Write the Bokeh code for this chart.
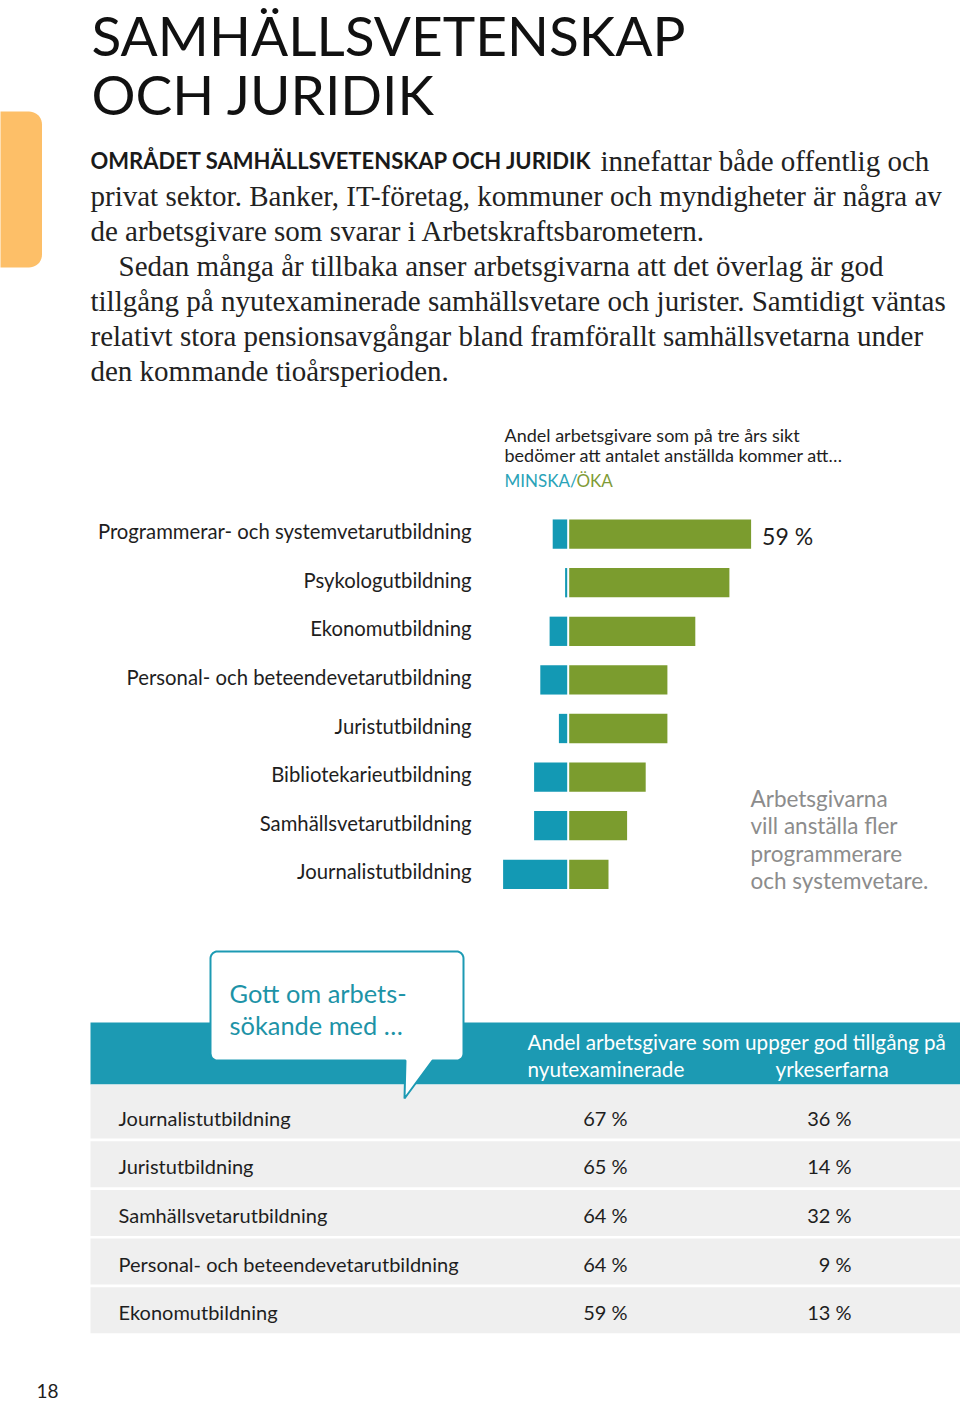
import math
from bokeh.plotting import figure
from bokeh.models import Range1d, Label, ColumnDataSource
from bokeh.embed import file_html
from bokeh.resources import INLINE
from bokeh.core.properties import value

# ---------------- data ----------------
categories = [
    "Programmerar- och systemvetarutbildning",
    "Psykologutbildning",
    "Ekonomutbildning",
    "Personal- och beteendevetarutbildning",
    "Juristutbildning",
    "Bibliotekarieutbildning",
    "Samhällsvetarutbildning",
    "Journalistutbildning",
]
minska = [5, 1, 6, 9, 3, 11, 11, 21]
oka = [59, 52, 41, 32, 32, 25, 19, 13]

table_labels = [
    "Journalistutbildning",
    "Juristutbildning",
    "Samhällsvetarutbildning",
    "Personal- och beteendevetarutbildning",
    "Ekonomutbildning",
]
nyutexaminerade = [67, 65, 64, 64, 59]
yrkeserfarna = [36, 14, 32, 9, 13]

title_lines = ["SAMHÄLLSVETENSKAP", "OCH JURIDIK"]
lead_bold = "OMRÅDET SAMHÄLLSVETENSKAP OCH JURIDIK"
body_lines = [
    "innefattar både offentlig och",
    "privat sektor. Banker, IT-företag, kommuner och myndigheter är några av",
    "de arbetsgivare som svarar i Arbetskraftsbarometern.",
    "Sedan många år tillbaka anser arbetsgivarna att det överlag är god",
    "tillgång på nyutexaminerade samhällsvetare och jurister. Samtidigt väntas",
    "relativt stora pensionsavgångar bland framförallt samhällsvetarna under",
    "den kommande tioårsperioden.",
]
chart_title = ["Andel arbetsgivare som på tre års sikt",
               "bedömer att antalet anställda kommer att…"]
note_lines = ["Arbetsgivarna", "vill anställa fler", "programmerare", "och systemvetare."]
bubble_lines = ["Gott om arbets-", "sökande med …"]

# ---------------- style ----------------
BLUE = "#1399b4"
GREEN = "#7b9c2e"
TEAL = "#1c9ab3"
ORANGE = "#fdbf68"
DARK = "#1e1e1e"
GREYTXT = "#8c8c8c"
ROWGREY = "#efefef"
SANS = "Lato"
SERIF = "Liberation Serif"

W, H = 960, 1401
p = figure(width=W, height=H, x_range=Range1d(0, W), y_range=Range1d(H, 0),
           output_backend="svg", toolbar_location=None, min_border=0,
           x_axis_location=None, y_axis_location=None)
p.grid.visible = False
p.outline_line_color = None
p.background_fill_color = "white"
p.border_fill_color = "white"

# bar chart scales
ZERO, SCALE = 567.7, 3.1
ROW0, PITCH = 533.6, 48.6
p.extra_x_ranges = {"pct": Range1d(start=(0 - ZERO) / SCALE, end=(W - ZERO) / SCALE)}
p.extra_y_ranges = {"row": Range1d(start=(H - ROW0) / PITCH, end=(0 - ROW0) / PITCH)}


def lab(x, y, text, size, color=DARK, font=SANS, align="left", baseline="middle", style="normal"):
    p.add_layout(Label(x=x, y=y, text=text, text_font=font, text_font_size=f"{size}px",
                       text_color=color, text_align=align, text_baseline=baseline,
                       text_font_style=style))


def rounded_path(l, t, r, b, rad, corners=(True, True, True, True), pointer=None, n=10):
    tl, tr, br, bl = corners
    xs, ys = [], []

    def arc(cx, cy, a0, a1):
        for k in range(n + 1):
            a = a0 + (a1 - a0) * k / n
            xs.append(cx + rad * math.cos(a))
            ys.append(cy + rad * math.sin(a))

    if tr:
        arc(r - rad, t + rad, -math.pi / 2, 0)
    else:
        xs.append(r); ys.append(t)
    if br:
        arc(r - rad, b - rad, 0, math.pi / 2)
    else:
        xs.append(r); ys.append(b)
    if pointer:
        for (px, py) in pointer:
            xs.append(px); ys.append(py)
    if bl:
        arc(l + rad, b - rad, math.pi / 2, math.pi)
    else:
        xs.append(l); ys.append(b)
    if tl:
        arc(l + rad, t + rad, math.pi, 3 * math.pi / 2)
    else:
        xs.append(l); ys.append(t)
    return xs, ys


# orange tab
tx, ty = rounded_path(-20, 111, 41.5, 267, 13, corners=(False, True, True, False))
p.patch(tx, ty, fill_color=ORANGE, line_color=None)

# title
lab(91, 34, title_lines[0], 55, color="#111111")
lab(91, 93, title_lines[1], 55, color="#111111")

# body text
LINE0, LH = 160, 35
lab(90, LINE0, lead_bold, 22, color="#1a1a1a", style="bold")
lab(600, LINE0, body_lines[0], 29, color="#222222", font=SERIF)
for i, t in enumerate(body_lines[1:], start=1):
    x = 118 if t.startswith("Sedan") else 90
    lab(x, LINE0 + LH * i, t, 29, color="#222222", font=SERIF)

# chart header
lab(504, 434, chart_title[0], 18)
lab(504, 454, chart_title[1], 18)
lab(504, 480, "MINSKA/", 17, color="#2aa3b8")
lab(576, 480, "ÖKA", 17, color="#7f9b36")

# bars
idx = list(range(len(categories)))
src = ColumnDataSource(dict(y=idx, neg=[-m for m in minska], pos=oka, cat=categories))
p.hbar(y="y", left="neg", right=0, height=0.603, source=src, x_range_name="pct",
       y_range_name="row", fill_color=BLUE, line_color=None)
p.hbar(y="y", left=0, right="pos", height=0.603, source=src, x_range_name="pct",
       y_range_name="row", fill_color=GREEN, line_color=None)
p.segment(x0=[0], x1=[0], y0=[-0.5], y1=[len(categories) - 0.5], x_range_name="pct",
          y_range_name="row", line_color="white", line_width=2)
p.text(x=471, y="y", text="cat", source=src, y_range_name="row",
       text_font=value(SANS), text_font_size="20.3px", text_color=DARK,
       text_align="right", text_baseline="middle", y_offset=-3)
p.text(x=[oka[0]], y=[0], text=[f"{oka[0]} %"], x_range_name="pct", y_range_name="row",
       x_offset=11, y_offset=2, text_font=value(SANS), text_font_size="23px",
       text_color=DARK, text_align="left", text_baseline="middle")

# note
for i, t in enumerate(note_lines):
    lab(750, 798 + 27.4 * i, t, 22.5, color=GREYTXT)

# table band and rows
p.quad(left=[90], right=[960], top=[1022], bottom=[1084], fill_color=TEAL, line_color=None)
row_c = [1115 + 48.7 * i for i in range(len(table_labels))]
tops = [c - 23 for c in row_c]
tops[0] = 1084
bots = [c + 23 for c in row_c]
p.quad(left=90, right=960, top=tops, bottom=bots, fill_color=ROWGREY, line_color=None)

# speech bubble
bx, by = rounded_path(210, 951, 463, 1060, 7,
                      pointer=[(432, 1060), (404, 1098), (405, 1060)])
p.patch(bx, by, fill_color="white", line_color=TEAL, line_width=2)
lab(229, 992, bubble_lines[0], 25.4, color="#1d93a7")
lab(229, 1024, bubble_lines[1], 25.4, color="#1d93a7")

# band header text
lab(527, 1041, "Andel arbetsgivare som uppger god tillgång på", 20.7, color="white")
lab(527, 1068, "nyutexaminerade", 20.7, color="white")
lab(775, 1068, "yrkeserfarna", 20.7, color="white")

tsrc = ColumnDataSource(dict(
    y=[c + 2 for c in row_c], lab=table_labels,
    ny=[f"{v} %" for v in nyutexaminerade],
    yr=[f"{v} %" for v in yrkeserfarna]))
for col, x, align in (("lab", 118, "left"), ("ny", 627, "right"), ("yr", 851, "right")):
    p.text(x=x, y="y", text=col, source=tsrc, text_font=value(SANS), text_font_size="20px",
           text_color=DARK, text_align=align, text_baseline="middle")

# page number
lab(36, 1390, "18", 19, color=DARK)

open("out.html", "w").write(file_html(p, INLINE))
